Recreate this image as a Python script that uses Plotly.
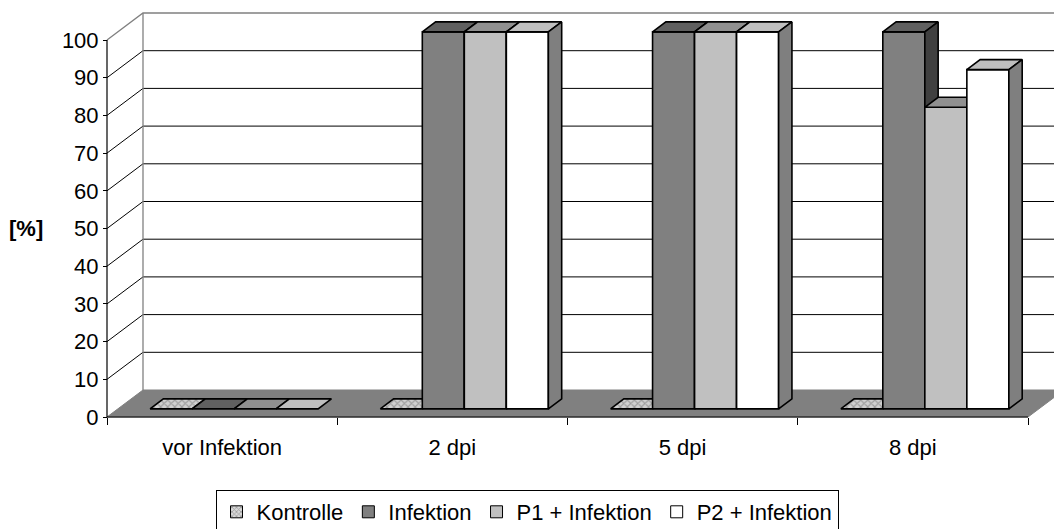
import plotly.graph_objects as go

# ---------------- data ----------------
categories = ["vor Infektion", "2 dpi", "5 dpi", "8 dpi"]
series_names = ["Kontrolle", "Infektion", "P1 + Infektion", "P2 + Infektion"]
kontrolle = [0, 0, 0, 0]
infektion = [0, 100, 100, 100]
p1_infektion = [0, 100, 100, 80]
p2_infektion = [0, 100, 100, 90]
y_tick_values = [0, 10, 20, 30, 40, 50, 60, 70, 80, 90, 100]
y_title = "[%]"

series_values = [kontrolle, infektion, p1_infektion, p2_infektion]

# ---------------- styles / geometry ----------------
FONT = "Liberation Sans, Arial, sans-serif"
W, H = 1054, 529
ML, MR, MT, MB = 97, 0, 11, 108
PLOT_W = W - ML - MR
PLOT_H = H - MT - MB
X_UNIT_PX = 230.25          # pixels per category
Y_UNIT_PX = 3.77            # pixels per percent
AXIS_X_PX = 107             # front value axis position (absolute px)
AXIS_Y_PX = 417             # front category axis position (absolute px)

x_min = -0.5 - (AXIS_X_PX - ML) / X_UNIT_PX
x_max = x_min + PLOT_W / X_UNIT_PX
y_min = -(H - MB - AXIS_Y_PX) / Y_UNIT_PX
y_max = y_min + PLOT_H / Y_UNIT_PX

DXF = 36 / X_UNIT_PX        # full depth offset (x)
DYF = 27 / Y_UNIT_PX        # full depth offset (y)
D0 = 0.30                   # depth of bar front faces
DB = 0.37                   # bar depth
BW = 0.1825                 # bar width (category units)
GROUP_LEFT = -0.36

front_colors = ["#d0d0d0", "#808080", "#c0c0c0", "#ffffff"]


def shade(hexcol, f):
    r, g, b = (int(hexcol[i:i + 2], 16) for i in (1, 3, 5))
    return "#%02x%02x%02x" % (int(r * f), int(g * f), int(b * f))


pattern = dict(shape="x", fgcolor="#6a6a6a", bgcolor="#d0d0d0", size=5, solidity=0.4)

fig = go.Figure()

# ---------------- floor ----------------
x_lo, x_hi = -0.5, len(categories) - 0.5
fig.add_trace(go.Scatter(
    x=[x_lo, x_lo + DXF, x_hi + DXF, x_hi, x_lo],
    y=[0, DYF, DYF, 0, 0],
    fill="toself", fillcolor="#808080", mode="lines",
    line=dict(color="#808080", width=1), hoverinfo="skip", showlegend=False))

# ---------------- walls / gridlines ----------------
gx, gy = [], []
for v in y_tick_values[1:-1]:
    gx += [x_lo, x_lo + DXF, x_max + 1, None]
    gy += [v, v + DYF, v + DYF, None]
fig.add_trace(go.Scatter(x=gx, y=gy, mode="lines", line=dict(color="#000000", width=1),
                         hoverinfo="skip", showlegend=False))
vtop = y_tick_values[-1]
fig.add_trace(go.Scatter(
    x=[x_lo, x_lo + DXF, x_max + 1, None, x_lo + DXF, x_lo + DXF],
    y=[vtop, vtop + DYF, vtop + DYF, None, DYF, vtop + DYF],
    mode="lines", line=dict(color="#808080", width=1.3), hoverinfo="skip", showlegend=False))

# ---------------- bars (3-D faces) ----------------
dx0, dy0 = D0 * DXF, D0 * DYF
dxb, dyb = DB * DXF, DB * DYF
for j, (name, vals) in enumerate(zip(series_names, series_values)):
    fx, fy, tx, ty, sx, sy = [], [], [], [], [], []
    for i, v in enumerate(vals):
        xl = i + GROUP_LEFT + j * BW + dx0
        xr = xl + BW
        b = dy0
        if v > 0:
            fx += [xl, xr, xr, xl, xl, None]
            fy += [b, b, b + v, b + v, b, None]
            sx += [xr, xr + dxb, xr + dxb, xr, xr, None]
            sy += [b, b + dyb, b + v + dyb, b + v, b, None]
        tx += [xl, xr, xr + dxb, xl + dxb, xl, None]
        ty += [b + v, b + v, b + v + dyb, b + v + dyb, b + v, None]
    base = front_colors[j]
    common = dict(mode="lines", line=dict(color="#000000", width=1.6),
                  hoverinfo="skip", showlegend=False, fill="toself")
    if j == 0:
        for xs, ys in ((fx, fy), (tx, ty), (sx, sy)):
            if xs:
                fig.add_trace(go.Scatter(x=xs, y=ys, fillcolor="#d0d0d0",
                                         fillpattern=pattern, **common))
    else:
        if fx:
            fig.add_trace(go.Scatter(x=fx, y=fy, fillcolor=base, **common))
        fig.add_trace(go.Scatter(x=tx, y=ty, fillcolor=shade(base, 0.75), **common))
        if sx:
            fig.add_trace(go.Scatter(x=sx, y=sy, fillcolor=shade(base, 0.5), **common))

# ---------------- front axes lines ----------------
fig.add_trace(go.Scatter(
    x=[x_lo, x_lo, None, x_lo, x_hi],
    y=[y_tick_values[-1], 0, None, 0, 0],
    mode="lines", line=dict(color="#000000", width=1.2), hoverinfo="skip", showlegend=False))

# ---------------- legend proxies ----------------
for j, name in enumerate(series_names):
    marker = dict(color=front_colors[j], line=dict(color="#000000", width=1))
    if j == 0:
        marker["pattern"] = dict(shape="x", fgcolor="#606060", bgcolor="#d8d8d8",
                                 size=4, solidity=0.45)
    fig.add_trace(go.Bar(x=[-10], y=[1], name=name, marker=marker,
                         xaxis="x2", hoverinfo="skip"))

axis_pos_y = (H - MB - AXIS_Y_PX) / PLOT_H
axis_pos_x = (AXIS_X_PX - ML) / PLOT_W
fig.update_layout(
    width=W, height=H, autosize=False,
    margin=dict(l=ML, r=MR, t=MT, b=MB),
    paper_bgcolor="white", plot_bgcolor="white",
    font=dict(family=FONT, size=22, color="#000000"),
    showlegend=True,
    xaxis=dict(range=[x_min, x_max], anchor="free", position=axis_pos_y,
               tickvals=[k - 0.5 for k in range(len(categories) + 1)],
               ticks="outside", ticklen=7, tickcolor="#000000", tickwidth=1,
               showticklabels=False, showgrid=False, zeroline=False, showline=False),
    xaxis2=dict(range=[x_min, x_max], overlaying="x", anchor="free", position=axis_pos_y,
                tickvals=list(range(len(categories))), ticktext=categories,
                ticks="outside", ticklen=11, tickcolor="rgba(0,0,0,0)",
                showgrid=False, zeroline=False, showline=False,
                tickfont=dict(family=FONT, size=22)),
    yaxis=dict(range=[y_min, y_max], anchor="free", position=axis_pos_x,
               tickvals=y_tick_values, ticks="outside", ticklen=4,
               tickcolor="#000000", tickwidth=1,
               showgrid=False, zeroline=False, showline=False,
               tickfont=dict(family=FONT, size=22)),
    legend=dict(orientation="h", xref="container", yref="container",
                x=0.5, xanchor="center", y=1 - 490 / H, yanchor="top",
                bordercolor="#000000", borderwidth=1, bgcolor="white",
                font=dict(family=FONT, size=22), traceorder="normal",
                itemwidth=30),
    annotations=[dict(text="<b>" + y_title + "</b>", xref="paper", yref="y",
                      x=(26 - ML) / PLOT_W, y=50, xanchor="center", yanchor="middle",
                      showarrow=False, font=dict(family=FONT, size=22))],
)

fig.write_html("out.html")
